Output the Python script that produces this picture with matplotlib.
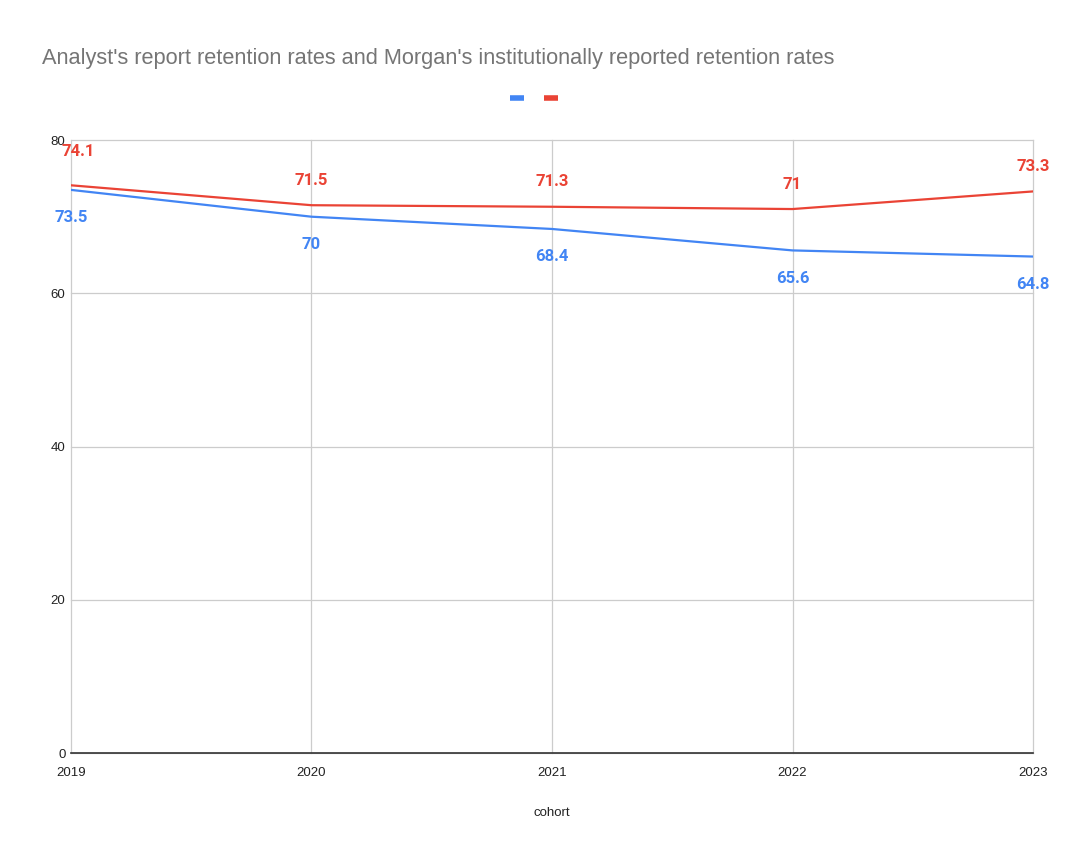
import matplotlib.pyplot as plt
from matplotlib.lines import Line2D

plt.rcParams['font.family'] = ['Liberation Sans', 'DejaVu Sans']

years = [2019, 2020, 2021, 2022, 2023]
analyst = [73.5, 70, 68.4, 65.6, 64.8]
morgan = [74.1, 71.5, 71.3, 71, 73.3]

blue = '#4285F4'
red = '#EA4335'

fig = plt.figure(figsize=(10.75, 8.49), dpi=100)
ax = fig.add_axes([0.066, 0.113, 0.895, 0.722])

ax.plot(years, analyst, color=blue, linewidth=1.6, zorder=3)
ax.plot(years, morgan, color=red, linewidth=1.6, zorder=3)

# data labels: red above, blue below
for i, (x, y) in enumerate(zip(years, morgan)):
    dx, dy = (5, 24.5) if i == 0 else (0, 18)
    ax.annotate(f'{y:g}', (x, y), xytext=(dx, dy), textcoords='offset points',
                ha='center', va='center', color=red, fontsize=12,
                fontweight='bold', family=['Roboto', 'DejaVu Sans'],
                annotation_clip=False)
for x, y in zip(years, analyst):
    ax.annotate(f'{y:g}', (x, y), xytext=(0, -20), textcoords='offset points',
                ha='center', va='center', color=blue, fontsize=12,
                fontweight='bold', family=['Roboto', 'DejaVu Sans'],
                annotation_clip=False)

ax.set_xlim(2019, 2023)
ax.set_ylim(0, 80)
ax.set_xticks(years)
ax.set_yticks([0, 20, 40, 60, 80])
ax.grid(True, color='#cccccc', linewidth=0.9)
for gl in ax.get_xgridlines() + ax.get_ygridlines():
    gl.set_clip_on(False)
ax.set_axisbelow(True)
for s in ['top', 'right', 'left']:
    ax.spines[s].set_visible(False)
ax.spines['bottom'].set_color('#333333')
ax.spines['bottom'].set_linewidth(1.2)
ax.tick_params(length=0, labelsize=9.5, colors='#222222')
ax.tick_params(axis='y', pad=4)
ax.tick_params(axis='x', pad=10)
ax.set_xlabel('cohort', fontsize=9.5, color='#222222', labelpad=20)

fig.text(0.039, 0.931, "Analyst's report retention rates and Morgan's institutionally reported retention rates",
         fontsize=15.7, color='#757575', va='center', ha='left')

handles = [Line2D([], [], color=blue, linewidth=4, solid_capstyle='butt'),
           Line2D([], [], color=red, linewidth=4, solid_capstyle='butt')]
fig.legend(handles, [' ', ' '], loc='center', bbox_to_anchor=(0.5, 0.884), ncol=2,
           frameon=False, handlelength=1.0, handletextpad=0.2, columnspacing=1.0)

fig.savefig('out.png', dpi=100)
